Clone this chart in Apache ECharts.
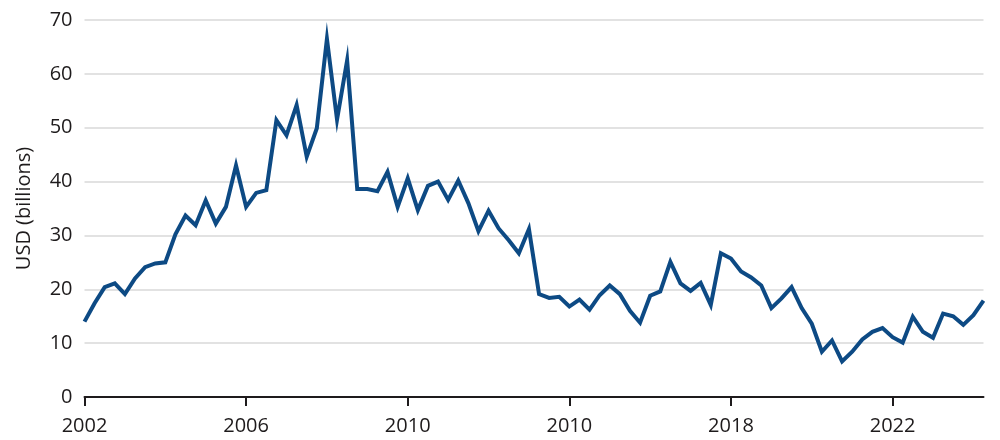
<!DOCTYPE html>
<html>
<head>
<meta charset="utf-8">
<script src="https://cdn.jsdelivr.net/npm/echarts@6/dist/echarts.min.js"></script>
<style>
  html, body { margin: 0; padding: 0; background: #fff; }
  #chart { width: 1000px; height: 440px; }
</style>
</head>
<body>
<div id="chart"></div>
<script>
// quarterly values, 2002 Q1 .. 2024 Q2 (USD billions)
var values = [
  14.0, 17.4, 20.4, 21.1, 19.1, 22.0, 24.1, 24.8, 25.0, 30.2,
  33.7, 31.9, 36.5, 32.2, 35.3, 43.0, 35.3, 37.9, 38.4, 51.4,
  48.6, 54.2, 44.6, 49.9, 66.5, 51.5, 62.5, 38.6, 38.6, 38.2,
  41.8, 35.3, 40.6, 34.7, 39.2, 40.0, 36.6, 40.2, 36.0, 30.8,
  34.6, 31.3, 29.1, 26.7, 31.2, 19.1, 18.4, 18.6, 16.8, 18.1,
  16.2, 18.9, 20.7, 19.1, 16.0, 13.8, 18.8, 19.6, 25.1, 21.1,
  19.7, 21.2, 17.1, 26.7, 25.7, 23.3, 22.2, 20.7, 16.5, 18.3,
  20.4, 16.5, 13.6, 8.4, 10.5, 6.6, 8.4, 10.7, 12.1, 12.8,
  11.1, 10.1, 14.9, 12.1, 11.0, 15.5, 15.0, 13.4, 15.2, 17.9
];
// x tick labels, one every 16 quarters (as printed on the original)
var tickLabels = ['2002', '2006', '2010', '2010', '2018', '2022'];
var quarters = [];
for (var i = 0; i < values.length; i++) {
  quarters.push((2002 + Math.floor(i / 4)) + ' Q' + (i % 4 + 1));
}

var myChart = echarts.init(document.getElementById('chart'));
var textColor = '#1e1b1c';
var fontFamily = '"Open Sans", "Noto Sans", sans-serif';

var option = {
  animation: false,
  grid: {
    left: 84.5,
    right: 16.5,
    top: 20,
    bottom: 43
  },
  xAxis: {
    type: 'category',
    data: quarters,
    boundaryGap: false,
    axisLine: { lineStyle: { color: textColor, width: 2 } },
    axisTick: {
      length: 9,
      lineStyle: { color: textColor, width: 2 },
      interval: function (idx) { return idx % 16 === 0; }
    },
    axisLabel: {
      interval: function (idx) { return idx % 16 === 0; },
      margin: 19,
      color: textColor,
      fontSize: 20,
      fontFamily: fontFamily,
      formatter: function (val, idx) { return tickLabels[idx / 16] || ''; }
    },
    splitLine: { show: false }
  },
  yAxis: {
    type: 'value',
    min: 0,
    max: 70,
    interval: 10,
    name: 'USD (billions)',
    nameLocation: 'middle',
    nameGap: 50,
    nameTextStyle: { color: textColor, fontSize: 20, fontFamily: fontFamily },
    axisLine: { show: false },
    axisTick: { show: false },
    axisLabel: { margin: 12, color: textColor, fontSize: 20, fontFamily: fontFamily },
    splitLine: { lineStyle: { color: '#d9d9d9', width: 1.5 } }
  },
  series: [
    {
      type: 'line',
      data: values,
      symbol: 'none',
      lineStyle: { color: '#0d4a84', width: 4, join: 'miter', miterLimit: 10 }
    }
  ]
};
myChart.setOption(option);
</script>
</body>
</html>
